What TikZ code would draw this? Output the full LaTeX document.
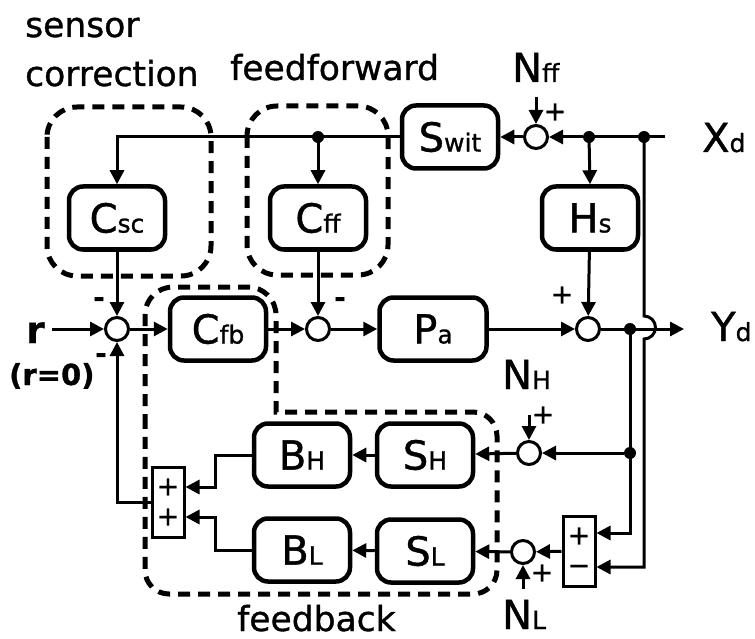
\documentclass[tikz,border=0pt]{standalone}
\usepackage{fontspec}
\setmainfont{DejaVu Sans}[FakeBold=1]
\usetikzlibrary{arrows.meta}
\newcommand\sbs[1]{{\fontsize{25}{25}\selectfont #1}}
\begin{document}
\begin{tikzpicture}[x=1pt,y=-1pt,
  blk/.style={draw,line width=4.5pt,rounded corners=14pt,minimum width=96pt,minimum height=63pt,inner sep=0pt,font=\fontsize{40}{40}\selectfont},
  sumc/.style={circle,draw,line width=3pt,minimum size=23pt,inner sep=0pt},
  dotn/.style={circle,fill,minimum size=12pt,inner sep=0pt},
  sgnbox/.style={draw,line width=3pt,minimum width=32pt,minimum height=70pt,inner sep=0pt,align=center,font=\fontsize{27}{30}\selectfont},
  conn/.style={line width=3pt,-{Triangle[length=14pt,width=14pt]}},
  wire/.style={line width=3pt},
  grp/.style={line width=5pt,dash pattern=on 12pt off 8pt},
  lbl/.style={inner sep=0pt,font=\fontsize{34.5}{40}\selectfont},
  io/.style={inner sep=0pt,font=\fontsize{40}{40}\selectfont},
  sgn/.style={inner sep=0pt,font=\fontsize{27}{27}\selectfont},
  msgn/.style={inner sep=0pt,font=\bfseries\fontsize{27}{27}\selectfont},
]
\useasboundingbox (0,0) rectangle (755,639);

% group outlines
\draw[grp,rounded corners=30pt] (47,107) rectangle (211,276);
\draw[grp,rounded corners=30pt] (247,106) rectangle (388,275);
\draw[grp] (145,450) [rounded corners=28pt] -- (145,287) -- (276,287) [sharp corners] -- (276,412) [rounded corners=24pt] -- (497,412) -- (497,594) -- (145,594) -- cycle;

% group labels
\node[lbl,anchor=base west] (tsen) at (25,37) {sensor};
\node[lbl,anchor=base west] (tcor) at (25,86) {correction};
\node[lbl,anchor=base west] (tff) at (230,80) {feedforward};
\node[lbl,anchor=base west] (tfb) at (237,631) {feedback};

% blocks
\node[blk] (csc) at (117,218) {C\sbs{sc}};
\node[blk] (cff) at (318,218) {C\sbs{ff}};
\node[blk] (swit) at (450,137) {S\sbs{wit}};
\node[blk] (hs) at (590,218) {H\sbs{s}};
\node[blk] (cfb) at (218,329) {C\sbs{fb}};
\node[blk,minimum width=107pt] (pa) at (433,329) {P\sbs{a}};
\node[blk] (bh) at (302,455) {B\sbs{H}};
\node[blk] (sh) at (425,455) {S\sbs{H}};
\node[blk] (bl) at (302,550) {B\sbs{L}};
\node[blk] (sl) at (425,551) {S\sbs{L}};

% summing junctions
\node[sumc] (s1) at (117,329) {};
\node[sumc] (s2) at (318,329) {};
\node[sumc] (s3) at (588,329) {};
\node[sumc] (sff) at (536,137) {};
\node[sumc] (snh) at (529,453) {};
\node[sumc] (snl) at (523,552) {};

% sign boxes
\node[sgnbox] (pp) at (168,502) {+\\+};
\node[sgnbox] (pm) at (579,551) {+\\−};

% branch dots
\node[dotn] (d1) at (318,137) {};
\node[dotn] (d2) at (589,137) {};
\node[dotn] (d3) at (644,137) {};
\node[dotn] (d4) at (630,329) {};
\node[dotn] (d5) at (630,453) {};

% free ends
\coordinate (xe) at (665,137);
\coordinate (ye) at (684,329);
\coordinate (rs) at (52,329);
\coordinate (nffs) at (536,97);
\coordinate (nhs) at (529,415);
\coordinate (nls) at (523,589);

% io labels
\node[io,anchor=base west] (xd) at (702,152) {X\sbs{d}};
\node[io,anchor=base west] (yd) at (711,341) {Y\sbs{d}};
\node[io,anchor=base west] (nff) at (512,82) {N\sbs{ff}};
\node[io,anchor=base west] (nh) at (502,389) {N\sbs{H}};
\node[io,anchor=base west] (nl) at (502,629) {N\sbs{L}};
\node[inner sep=0pt,anchor=base west,font=\bfseries\fontsize{37}{37}\selectfont] (rl) at (26,343) {r};
\node[inner sep=0pt,anchor=base west,font=\bfseries\fontsize{29}{29}\selectfont] (r0) at (9,385) {(r=0)};

% signs
\node[sgn] (p1) at (555,112) {+};
\node[sgn] (p2) at (562,295) {+};
\node[sgn] (p3) at (543,415) {+};
\node[sgn] (p4) at (542,573) {+};
\node[msgn] (m1) at (99,302) {-};
\node[msgn] (m2) at (101,358) {-};
\node[msgn] (m3) at (340,302) {-};

% connectors: top
\draw[wire] (xe) -- (d3.center) -- (d2.center);
\draw[conn] (d2) -- (sff);
\draw[conn] (nffs) -- (sff);
\draw[conn] (sff) -- (swit);
\draw[conn] (swit.west) -| (csc.north);
\draw[conn] (d1.center) -- (cff.north);
\draw[conn] (d2.center) -- (hs.north);
\draw[conn] (hs) -- (s3);

% forward path
\draw[conn] (csc) -- (s1);
\draw[conn] (cff) -- (s2);
\draw[conn] (rs) -- (s1);
\draw[conn] (s1) -- (cfb);
\draw[conn] (cfb) -- (s2);
\draw[conn] (s2) -- (pa);
\draw[conn] (pa) -- (s3);
\draw[conn] (s3) -- (ye);

% sensor paths
\draw[conn] (d3.center) -- ++(0,179) arc[start angle=90,end angle=-90,radius=11.5pt] |- ([yshift=-16pt]pm.east);
\draw[conn] (d4.center) |- ([yshift=18pt]pm.east);
\draw[conn] (d5) -- (snh);
\draw[conn] (nhs) -- (snh);
\draw[conn] (nls) -- (snl);
\draw[conn] (pm) -- (snl);
\draw[conn] (snh) -- (sh);
\draw[conn] (snl) -- (sl);
\draw[conn] (sh) -- (bh);
\draw[conn] (sl) -- (bl);
\draw[conn] (bh.west) -- ++(-36,0) |- ([yshift=15pt]pp.east);
\draw[conn] (bl.west) -- ++(-36,0) |- ([yshift=-15pt]pp.east);
\draw[conn] (pp.west) -| (s1.south);
\end{tikzpicture}
\end{document}
